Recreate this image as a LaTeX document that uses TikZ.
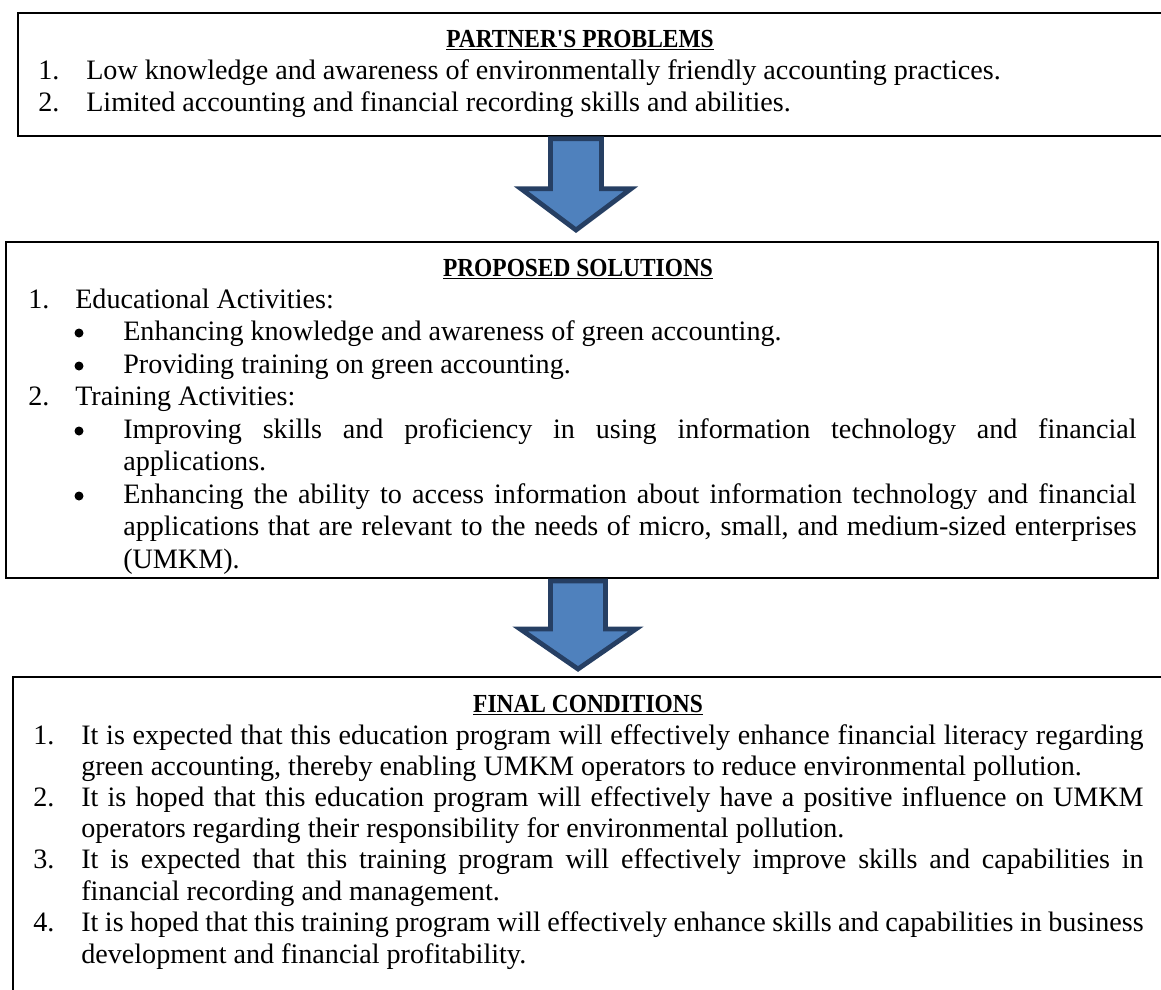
\documentclass[tikz,border=0pt]{standalone}
\usepackage{fontspec}
\usepackage{graphicx}
\setmainfont{Liberation Serif}[Ligatures=TeXOff]
\usetikzlibrary{calc}
\definecolor{arrowfill}{HTML}{4F81BD}
\definecolor{arrowline}{HTML}{263F63}
\tikzset{
  box/.style={draw, line width=1.3pt, inner sep=0, anchor=north west},
  txt/.style={anchor=base west, inner sep=0, font=\fontsize{20}{24}\selectfont},
  ttl/.style={anchor=base, inner sep=0, font=\fontsize{18.5}{22}\selectfont\bfseries},
  blockarrow/.style={fill=arrowfill, draw=arrowline, line width=3.4pt, line join=miter}
}
\begin{document}
\begin{tikzpicture}[x=0.025cm, y=-0.025cm]
        \useasboundingbox (0,0) rectangle (1161,989);
        \clip (0,0) rectangle (1161,989);

        % Box of the problems
        \node [box, minimum width=28.95cm, minimum height=3.08cm] (prob) at (17,11.7) {};
        \node [ttl] (probt) at (580,47) {\scalebox{0.9}[1]{\underline{PARTNER'S PROBLEMS}}};
        \node [txt] (p1n) at (38,79) {1.};
        \node [txt] (p1) at (86,79) {Low knowledge and awareness of environmentally friendly accounting practices.};
        \node [txt] (p2n) at (38,111) {2.};
        \node [txt] (p2) at (86,111) {Limited accounting and financial recording skills and abilities.};

        % Box of the solutions
        \node [box, minimum width=28.8cm, minimum height=8.4cm] (sol) at (5,241) {};
        \node [ttl] (solt) at (578,276) {\scalebox{0.9}[1]{\underline{PROPOSED SOLUTIONS}}};
        \node [txt] (s1n) at (28,308) {1.};
        \node [txt] (s1) at (75,308) {Educational Activities:};
        \node [txt] (s1a) at (123,340) {Enhancing knowledge and awareness of green accounting.};
        \node [txt] (s1b) at (123,373) {Providing training on green accounting.};
        \node [txt] (s2n) at (28,405) {2.};
        \node [txt] (s2) at (75,405) {Training Activities:};
        \node [txt] (s2a) at (123,438) {\makebox[25.325cm][s]{Improving skills and proficiency in using information technology and financial}};
        \node [txt] (s2a2) at (123,470) {applications.};
        \node [txt] (s2b) at (123,503) {\makebox[25.325cm][s]{Enhancing the ability to access information about information technology and financial}};
        \node [txt] (s2b2) at (123,535) {\makebox[25.325cm][s]{applications that are relevant to the needs of micro, small, and medium-sized enterprises}};
        \node [txt] (s2b3) at (123,568) {(UMKM).};

        % Bullets of the sub items
        \foreach \it in {s1a,s1b,s2a,s2b}
          \fill (\it.base west) ++(-44,-7) circle (4.5);

        % Box of the final conditions
        \node [box, minimum width=29.075cm, minimum height=8.1cm] (cond) at (12,676) {};
        \node [ttl] (condt) at (588,712) {\scalebox{0.9}[1]{\underline{FINAL CONDITIONS}}};
        \node [txt] (c1n) at (33,744) {1.};
        \node [txt] (c1) at (81,744) {\makebox[26.55cm][s]{It is expected that this education program will effectively enhance financial literacy regarding}};
        \node [txt] (c1b) at (81,775) {green accounting, thereby enabling UMKM operators to reduce environmental pollution.};
        \node [txt] (c2n) at (33,806) {2.};
        \node [txt] (c2) at (81,806) {\makebox[26.55cm][s]{It is hoped that this education program will effectively have a positive influence on UMKM}};
        \node [txt] (c2b) at (81,837) {operators regarding their responsibility for environmental pollution.};
        \node [txt] (c3n) at (33,868) {3.};
        \node [txt] (c3) at (81,868) {\makebox[26.55cm][s]{It is expected that this training program will effectively improve skills and capabilities in}};
        \node [txt] (c3b) at (81,900) {financial recording and management.};
        \node [txt] (c4n) at (33,931) {4.};
        \node [txt] (c4) at (81,931) {\makebox[26.55cm][s]{It is hoped that this training program will effectively enhance skills and capabilities in business}};
        \node [txt] (c4b) at (81,963) {development and financial profitability.};

        % Arrow from the problems to the solutions
        \coordinate (a1top) at (prob.south -| 576,0);
        \coordinate (a1tip) at (sol.north -| 576,0);
        \draw [blockarrow] ($(a1top)+(-25.5,2)$) -- ($(a1top)+(25.5,2)$) -- ($(a1top)+(25.5,52)$)
              -- ($(a1top)+(55,52)$) -- ($(a1tip)+(0,-11)$) -- ($(a1top)+(-55,52)$)
              -- ($(a1top)+(-25.5,52)$) -- cycle;

        % Arrow from the solutions to the final conditions
        \coordinate (a2top) at (sol.south -| 578,0);
        \coordinate (a2tip) at (cond.north -| 578,0);
        \draw [blockarrow] ($(a2top)+(-27.5,2)$) -- ($(a2top)+(27.5,2)$) -- ($(a2top)+(27.5,50)$)
              -- ($(a2top)+(58,50)$) -- ($(a2tip)+(0,-7)$) -- ($(a2top)+(-58,50)$)
              -- ($(a2top)+(-27.5,50)$) -- cycle;
\end{tikzpicture}
\end{document}
